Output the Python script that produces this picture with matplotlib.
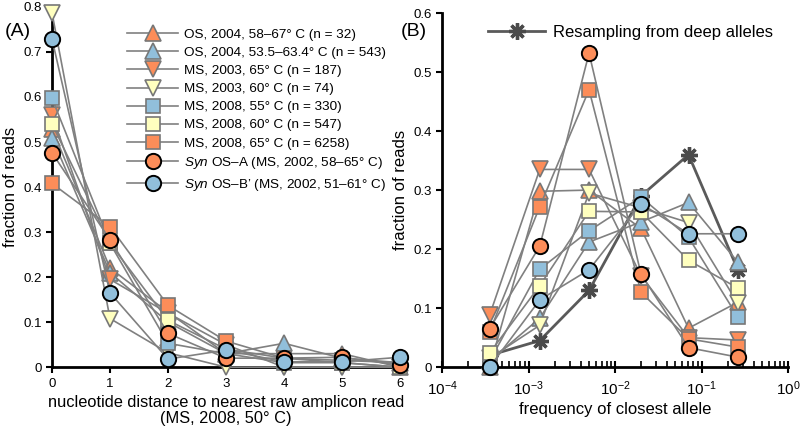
import numpy as np
import matplotlib
matplotlib.use("Agg")
import matplotlib.pyplot as plt
from matplotlib.ticker import FuncFormatter, LogLocator, NullFormatter

plt.rcParams['font.family'] = ['Liberation Sans', 'DejaVu Sans']
plt.rcParams['mathtext.fontset'] = 'custom'
plt.rcParams['mathtext.rm'] = 'Liberation Sans'
plt.rcParams['mathtext.it'] = 'Liberation Sans:italic'

ORANGE = '#fc8d59'
BLUE = '#91bfdb'
YELLOW = '#ffffbf'

labels = [
    "OS, 2004, 58\u201367\u00b0 C (n = 32)",
    "OS, 2004, 53.5\u201363.4\u00b0 C (n = 543)",
    "MS, 2003, 65\u00b0 C (n = 187)",
    "MS, 2003, 60\u00b0 C (n = 74)",
    "MS, 2008, 55\u00b0 C (n = 330)",
    "MS, 2008, 60\u00b0 C (n = 547)",
    "MS, 2008, 65\u00b0 C (n = 6258)",
    "$\\it{Syn}$ OS\u2013A (MS, 2002, 58\u201365\u00b0 C)",
    "$\\it{Syn}$ OS\u2013B\u2019 (MS, 2002, 51\u201361\u00b0 C)",
]
colors = [ORANGE, BLUE, ORANGE, YELLOW, BLUE, YELLOW, ORANGE, ORANGE, BLUE]
markers = ['^', '^', 'v', 'v', 's', 's', 's', 'o', 'o']

# Panel A: nucleotide distance
dist = [0, 1, 2, 3, 4, 5, 6]
a_os04_hot = [0.53, 0.22, 0.122, 0.03, 0.03, 0.03, 0.0]
a_os04_wide = [0.51, 0.21, 0.10, 0.03, 0.053, 0.02, 0.01]
a_ms03_65 = [0.56, 0.195, 0.12, 0.05, 0.0, 0.0, 0.0]
a_ms03_60 = [0.787, 0.108, 0.032, 0.0, 0.0, 0.0, 0.0]
a_ms08_55 = [0.597, 0.275, 0.053, 0.03, 0.01, 0.01, 0.0]
a_ms08_60 = [0.54, 0.275, 0.104, 0.04, 0.02, 0.01, 0.0]
a_ms08_65 = [0.408, 0.312, 0.137, 0.058, 0.02, 0.015, 0.01]
a_synA = [0.476, 0.283, 0.075, 0.02, 0.02, 0.022, 0.005]
a_synB = [0.729, 0.165, 0.018, 0.038, 0.012, 0.012, 0.022]
series_a = [a_os04_hot, a_os04_wide, a_ms03_65, a_ms03_60, a_ms08_55,
            a_ms08_60, a_ms08_65, a_synA, a_synB]

# Panel B: frequency of closest allele (log10 bin centres)
log_freq = [-3.45, -2.87, -2.30, -1.70, -1.15, -0.58]
b_os04_hot = [0.0, 0.298, 0.30, 0.235, 0.066, 0.11]
b_os04_wide = [0.01, 0.083, 0.212, 0.246, 0.279, 0.178]
b_ms03_65 = [0.088, 0.335, 0.335, 0.155, 0.05, 0.046]
b_ms03_60 = [0.015, 0.071, 0.295, 0.27, 0.245, 0.108]
b_ms08_55 = [0.01, 0.166, 0.231, 0.288, 0.22, 0.085]
b_ms08_60 = [0.024, 0.138, 0.264, 0.263, 0.181, 0.134]
b_ms08_65 = [0.06, 0.272, 0.47, 0.127, 0.048, 0.034]
b_synA = [0.065, 0.205, 0.532, 0.158, 0.033, 0.017]
b_synB = [0.0, 0.114, 0.165, 0.277, 0.226, 0.226]
series_b = [b_os04_hot, b_os04_wide, b_ms03_65, b_ms03_60, b_ms08_55,
            b_ms08_60, b_ms08_65, b_synA, b_synB]
b_resample = [0.02, 0.045, 0.13, 0.29, 0.36, 0.165]

fig = plt.figure(figsize=(8, 4.34), dpi=100)
axA = fig.add_axes([0.065, 0.154, 0.435, 0.83])
axB = fig.add_axes([0.5525, 0.154, 0.4325, 0.816])

def style(m, c):
    if m == 'o':
        return dict(marker='o', ms=11, mfc=c, mec='black', mew=1.4)
    if m == 's':
        return dict(marker='s', ms=9.5, mfc=c, mec='#777777', mew=1.2)
    return dict(marker=m, ms=12, mfc=c, mec='#777777', mew=1.2)

line_kw = dict(color='#808080', lw=1.2)

for i, (ys, m, c, lab) in enumerate(zip(series_a, markers, colors, labels)):
    axA.plot(dist, ys, label=lab, clip_on=False, zorder=3 + i, **line_kw, **style(m, c))

xb = 10.0 ** np.array(log_freq)
axB.plot(xb, b_resample, color='#5a5a5a', lw=2, marker=(8, 2, 0), ms=12, mec='#4a4a4a',
         mew=2.4, clip_on=False, zorder=2, label='Resampling from deep alleles')
for i, (ys, m, c) in enumerate(zip(series_b, markers, colors)):
    axB.plot(xb, ys, clip_on=False, zorder=3 + i, **line_kw, **style(m, c))

for ax in (axA, axB):
    for s in ('top', 'right'):
        ax.spines[s].set_visible(False)
    for s in ('left', 'bottom'):
        ax.spines[s].set_linewidth(2)
        ax.spines[s].set_zorder(1)
    ax.tick_params(direction='out', width=1.5, length=4, labelsize=9.5)

fmt = FuncFormatter(lambda v, p: '0' if abs(v) < 1e-9 else f'{v:.1f}')

axA.set_xlim(0, 6)
axA.set_ylim(0, 0.8)
axA.set_xticks(dist)
axA.set_yticks(np.arange(0, 0.81, 0.1))
axA.yaxis.set_major_formatter(fmt)
axA.set_ylabel('fraction of reads', fontsize=12, labelpad=4)
axA.set_xlabel('nucleotide distance to nearest raw amplicon read\n(MS, 2008, 50\u00b0 C)',
               fontsize=11.8, labelpad=4, linespacing=1.1)

axB.set_xscale('log')
axB.set_xlim(1e-4, 1)
axB.set_ylim(0, 0.6)
axB.set_yticks(np.arange(0, 0.61, 0.1))
axB.yaxis.set_major_formatter(fmt)
axB.xaxis.set_major_locator(LogLocator(base=10, numticks=10))
axB.xaxis.set_minor_locator(LogLocator(base=10, subs=np.arange(2, 10), numticks=10))
axB.xaxis.set_minor_formatter(NullFormatter())
axB.xaxis.set_major_formatter(FuncFormatter(lambda v, p: '$10^{%d}$' % round(np.log10(v))))
axB.tick_params(axis='x', which='major', direction='inout', length=8, pad=5, labelsize=11)
axB.tick_params(axis='x', which='minor', direction='in', length=4, width=1.2)
axB.set_ylabel('fraction of reads', fontsize=12, labelpad=4)
axB.set_xlabel('frequency of closest allele', fontsize=12, labelpad=3)

legA = axA.legend(loc='upper left', bbox_to_anchor=(0.2, 0.955), frameon=False,
                  fontsize=9.7, handlelength=3.8, labelspacing=0.42, handletextpad=0.4,
                  borderaxespad=0)
legB = axB.legend(loc='upper left', bbox_to_anchor=(0.115, 0.985), frameon=False,
                  fontsize=12, handlelength=3.4, handletextpad=0.5, borderaxespad=0)

fig.text(0.006, 0.917, '(A)', fontsize=14)
fig.text(0.501, 0.917, '(B)', fontsize=14)

fig.savefig('out.png', dpi=100)
